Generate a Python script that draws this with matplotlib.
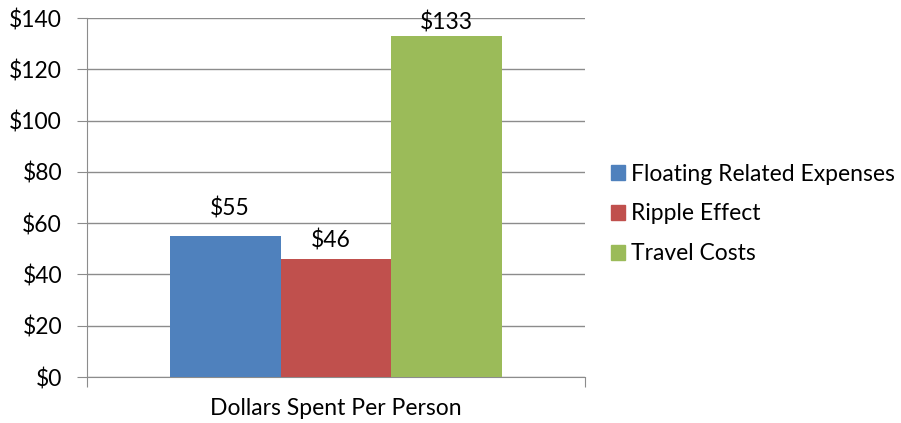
import matplotlib
matplotlib.use("Agg")
import matplotlib.pyplot as plt
from matplotlib.patches import Patch

# data
category = "Dollars Spent Per Person"
series = ["Floating Related Expenses", "Ripple Effect", "Travel Costs"]
values = [55, 46, 133]
colors = ["#4F81BD", "#C0504D", "#9BBB59"]
yticks = [0, 20, 40, 60, 80, 100, 120, 140]
# label nudges (points) as placed in the original
label_dx = [3, -4, 0]
label_dy = [15, 8, 5]

plt.rcParams['font.family'] = ['Lato', 'DejaVu Sans']
fs = 16.5
grid_col = "#8c8c8c"

fig = plt.figure(figsize=(9.01, 4.23), dpi=100)
ax = fig.add_axes([87/901, 46/423, 498/901, 359/423])

bar_w = 0.222
offsets = [-bar_w, 0, bar_w]
for off, v, c, dx, dy in zip(offsets, values, colors, label_dx, label_dy):
    ax.bar(off, v, width=bar_w, color=c, zorder=3)
    ax.annotate("$%d" % v, (off, v), xytext=(dx, dy), textcoords='offset points',
                ha='center', va='baseline', fontsize=fs)

ax.set_xlim(-0.5, 0.5)
ax.set_ylim(0, 140)
ax.set_yticks(yticks)
ax.set_yticklabels(["$%d" % t for t in yticks], fontsize=fs)
ax.yaxis.grid(True, color=grid_col, linewidth=1, zorder=0)

# boundary ticks on x, category label as minor tick
ax.set_xticks([-0.5, 0.5])
ax.set_xticklabels(["", ""])
ax.set_xticks([0], minor=True)
ax.set_xticklabels([category], minor=True, fontsize=fs)
ax.tick_params(axis='x', which='minor', length=0, pad=15)
ax.tick_params(axis='x', which='major', length=7, color=grid_col)
ax.tick_params(axis='y', length=7, color=grid_col, pad=11)

for s in ['top', 'right']:
    ax.spines[s].set_visible(False)
for s in ['left', 'bottom']:
    ax.spines[s].set_color(grid_col)

handles = [Patch(color=c, label=s) for s, c in zip(series, colors)]
fig.legend(handles=handles, loc='center left', bbox_to_anchor=(611/901, 209/423),
           frameon=False, fontsize=fs, handlelength=0.61, handleheight=0.61,
           handletextpad=0.25, labelspacing=0.82, borderpad=0, borderaxespad=0)

fig.savefig("out.png", dpi=100)
